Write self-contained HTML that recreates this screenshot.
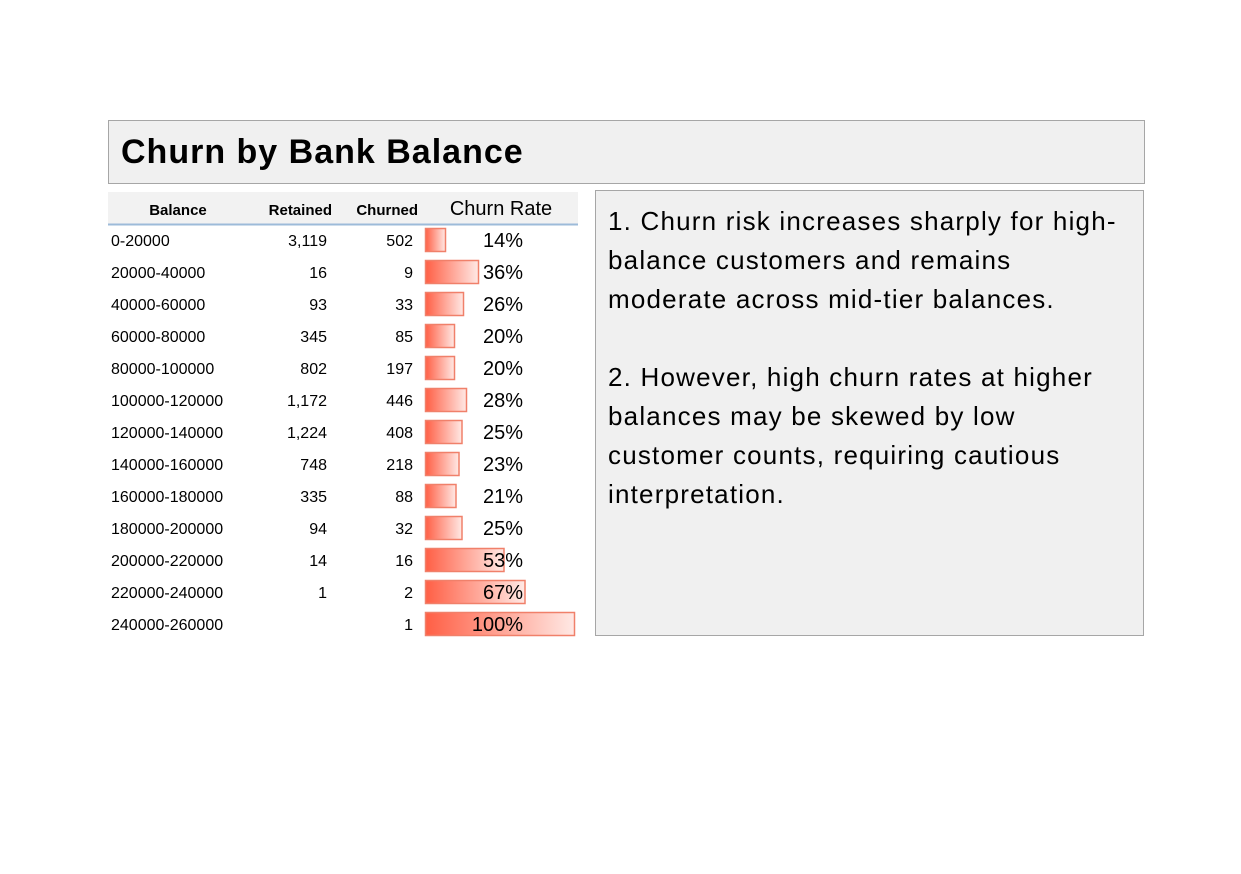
<!DOCTYPE html>
<html><head><meta charset="utf-8"><style>
body{margin:0;width:1241px;height:874px;background:#fff;font-family:"Liberation Sans",sans-serif;position:relative;overflow:hidden}
#title{position:absolute;left:108px;top:120px;width:1035px;height:62px;background:#f0f0f0;border:1px solid #a6a6a6}
#title span{position:absolute;left:12px;top:12px;font-size:34px;font-weight:bold;color:#000;letter-spacing:1px}
#notes{position:absolute;left:595px;top:190px;width:549px;height:446px;background:#f0f0f0;border:1px solid #a6a6a6;box-sizing:border-box;padding:11px 12px;font-size:26px;line-height:39px;color:#000;letter-spacing:1.2px;white-space:nowrap}
svg{position:absolute;left:0;top:0}
</style></head><body>
<div id="title"><span>Churn by Bank Balance</span></div>
<div id="notes">1. Churn risk increases sharply for high-<br>balance customers and remains<br>moderate across mid-tier balances.<br><br>2. However, high churn rates at higher<br>balances may be skewed by low<br>customer counts, requiring cautious<br>interpretation.</div>
<svg id="tbl" width="1241" height="874">
<defs><linearGradient id="g" x1="0" x2="1"><stop offset="0" stop-color="#ff5f45"/><stop offset="1" stop-color="#ffe9e5"/></linearGradient></defs>
<rect x="108" y="192" width="470" height="32" fill="#f2f2f2"/>
<line x1="108" x2="578" y1="224.5" y2="224.5" stroke="#9dbbd9" stroke-width="2"/>
<g font-weight="bold" font-size="15" fill="#000">
<text x="178" y="215" text-anchor="middle">Balance</text>
<text x="332" y="215" text-anchor="end">Retained</text>
<text x="418" y="215" text-anchor="end">Churned</text>
</g>
<text x="501" y="215" text-anchor="middle" font-size="20">Churn Rate</text>
<g id="rows"></g>
</svg>
<script>
const categories=["0-20000","20000-40000","40000-60000","60000-80000","80000-100000","100000-120000","120000-140000","140000-160000","160000-180000","180000-200000","200000-220000","220000-240000","240000-260000"];
const retained=["3,119","16","93","345","802","1,172","1,224","748","335","94","14","1",""];
const churned=["502","9","33","85","197","446","408","218","88","32","16","2","1"];
const churnRate=[14,36,26,20,20,28,25,23,21,25,53,67,100];
const NS="http://www.w3.org/2000/svg";
const g=document.getElementById('rows');
const x0=425,fullW=150,y0=240,step=32;
function xs(v){return v/100*fullW;}
function mk(tag,attrs){const e=document.createElementNS(NS,tag);for(const k in attrs)e.setAttribute(k,attrs[k]);return e;}
categories.forEach((c,i)=>{
 const y=y0+i*step;
 let t=mk('text',{x:111,y:y+6,'font-size':16});t.textContent=c;
 
 g.appendChild(t);
 t=mk('text',{x:327,y:y+6,'font-size':16,'text-anchor':'end'});t.textContent=retained[i];
 
 g.appendChild(t);
 t=mk('text',{x:413,y:y+6,'font-size':16,'text-anchor':'end'});t.textContent=churned[i];
 
 g.appendChild(t);
 const r=mk('rect',{x:x0+0.5,y:y-11.5,width:Math.max(xs(churnRate[i])-1,1),height:23,fill:'url(#g)',stroke:'#f0806a','stroke-width':1.5});
 
 g.appendChild(r);
 t=mk('text',{x:523,y:y+7,'font-size':20,'text-anchor':'end'});t.textContent=churnRate[i]+'%';
 
 g.appendChild(t);
});
</script>
</body></html>
